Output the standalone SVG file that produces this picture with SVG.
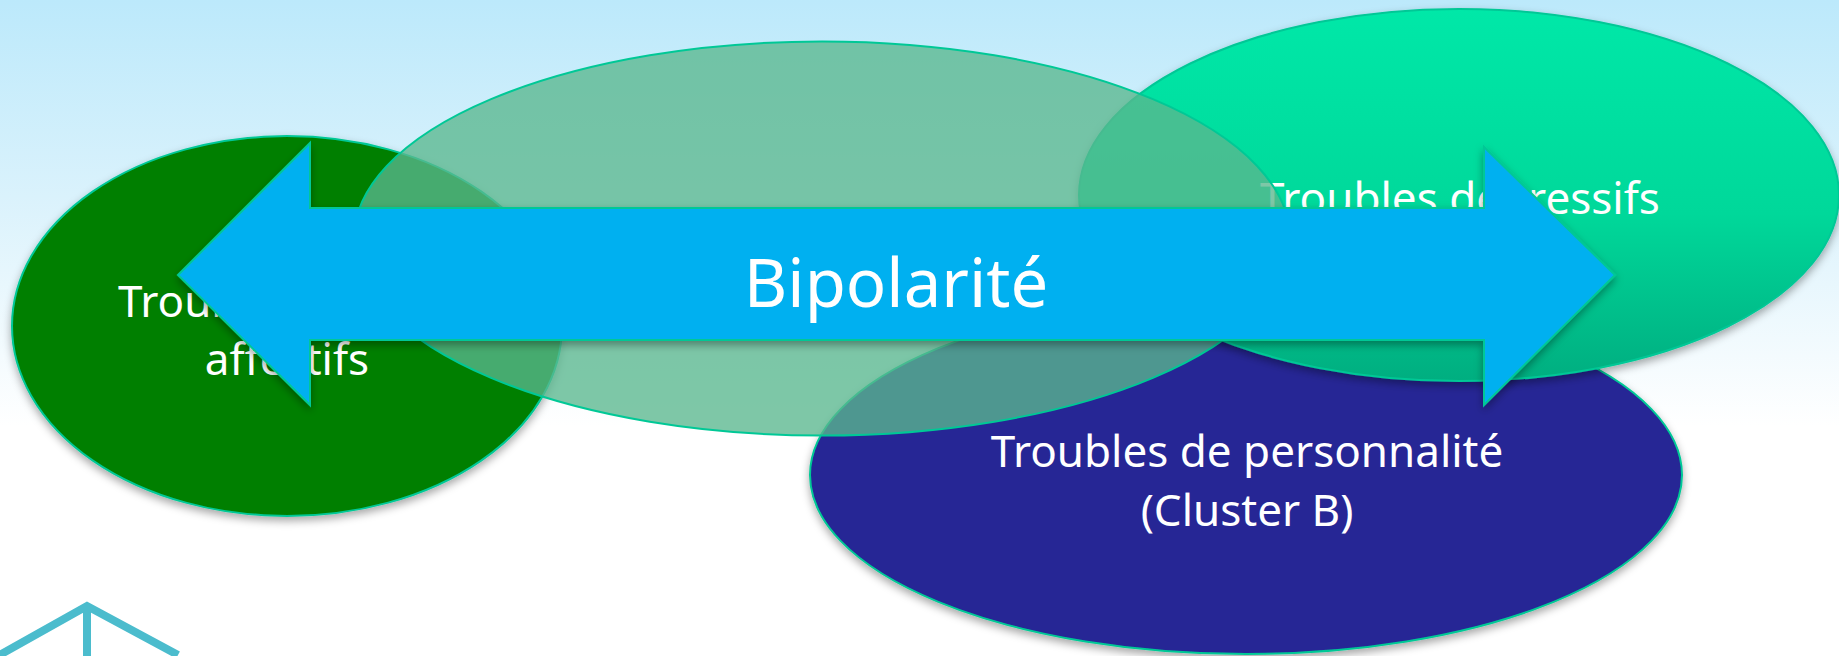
<svg xmlns="http://www.w3.org/2000/svg" width="1839" height="656" viewBox="0 0 1839 656">
<style>
.lbl{font-family:"Noto Sans","DejaVu Sans",sans-serif;fill:#fff;text-anchor:middle;font-size:44px}
.edge{stroke:#00c896;stroke-width:2}
</style>
<defs>
<linearGradient id="bg" x1="0" y1="0" x2="0" y2="1"><stop offset="0" stop-color="#bce9fb"/><stop offset="0.3" stop-color="#daf2fc"/><stop offset="0.65" stop-color="#ffffff"/></linearGradient>
<linearGradient id="tg" x1="0" y1="0" x2="0" y2="1"><stop offset="0" stop-color="#00e8a8"/><stop offset="0.55" stop-color="#00d89a"/><stop offset="1" stop-color="#00ae80"/></linearGradient>
<filter id="sh" x="-10%" y="-10%" width="120%" height="125%"><feDropShadow dx="0" dy="4" stdDeviation="4" flood-color="#000" flood-opacity="0.35"/></filter>
</defs>
<rect width="1839" height="656" fill="url(#bg)"/>
<g id="logo" fill="none" stroke="#4bbccd" stroke-width="8"><path d="M-4 657L87 606L178 655M87 606V660"/></g>
<g id="node-affectifs"><ellipse cx="287" cy="326" rx="275" ry="190" fill="#007f00" class="edge" filter="url(#sh)"/>
<text class="lbl" x="118" y="317" style="text-anchor:start">Troubles</text><text class="lbl" x="287" y="375">affectifs</text></g>
<g id="node-personnalite"><ellipse cx="1246" cy="475" rx="436" ry="179" fill="#262695" class="edge" filter="url(#sh)"/>
<text class="lbl" x="1247" y="467">Troubles de personnalité</text><text class="lbl" x="1247" y="526">(Cluster B)</text></g>
<g id="node-depressifs"><ellipse cx="1459" cy="195" rx="380" ry="186" fill="url(#tg)" class="edge" filter="url(#sh)"/>
<text class="lbl" x="1460" y="214">Troubles dépressifs</text></g>
<g id="node-centre"><ellipse cx="822" cy="238.500" rx="468" ry="197" fill="#5ab78e" fill-opacity="0.78" class="edge"/></g>
<g id="connectors"><path id="bipolarite-arrow" d="M178 275L310 143V208H1484V147L1615 275L1484 405V340H310V405Z" fill="#00b0f0" class="edge" filter="url(#sh)"/></g>
<text x="896" y="307" style="font-family:'Noto Sans','DejaVu Sans',sans-serif;font-size:67px;fill:#fff;text-anchor:middle">Bipolarité</text>
</svg>
